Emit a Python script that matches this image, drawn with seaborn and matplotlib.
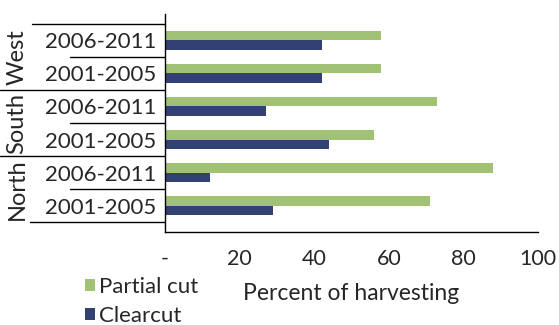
import numpy as np
import pandas as pd
import matplotlib.pyplot as plt
import matplotlib.transforms as mtransforms
import seaborn as sns

# data, top row first
regions = ["West", "West", "South", "South", "North", "North"]
periods = ["2006-2011", "2001-2005", "2006-2011", "2001-2005", "2006-2011", "2001-2005"]
partial_cut = [58, 58, 73, 56, 88, 71]
clearcut = [42, 42, 27, 44, 12, 29]
x_ticks = [0, 20, 40, 60, 80, 100]
x_tick_labels = ["-", "20", "40", "60", "80", "100"]

rows = [r + " " + p for r, p in zip(regions, periods)]
df = pd.DataFrame({
    "row": rows * 2,
    "value": partial_cut + clearcut,
    "type": ["Partial cut"] * len(rows) + ["Clearcut"] * len(rows),
})

sns.set_style("white")
plt.rcParams["font.family"] = ["Lato", "DejaVu Sans"]

fig = plt.figure(figsize=(5.59, 3.25), dpi=100)
ax = fig.add_axes([0.295, 0.286, 0.9625 - 0.295, 0.957 - 0.286])

sns.barplot(
    data=df, x="value", y="row", hue="type", order=rows,
    hue_order=["Partial cut", "Clearcut"],
    palette=["#a3cf67", "#283a7d"], width=0.56, linewidth=0,
    orient="h", ax=ax
)

ax.set_xlim(0, 100)
ax.set_xticks(x_ticks)
ax.set_xticklabels(x_tick_labels, fontsize=15.5)
ax.tick_params(axis="x", length=4, width=1, color="black", pad=8, direction="out")
ax.set_yticks(range(len(rows)))
ax.set_yticklabels(periods, fontsize=16)
ax.tick_params(axis="y", length=0, pad=6)
ax.set_ylabel("")
ax.set_xlabel("Percent of harvesting", fontsize=16.5, labelpad=10)

for side in ["top", "right"]:
    ax.spines[side].set_visible(False)
for side in ["left", "bottom"]:
    ax.spines[side].set_color("black")
    ax.spines[side].set_linewidth(1)

# label box lines
trans = mtransforms.blended_transform_factory(fig.transFigure, ax.transData)
x_axis = 0.295
for y, x0 in [(-0.5, 32 / 559), (1.5, 0.0), (3.5, 0.0), (5.5, 30 / 559),
              (0.5, 70 / 559), (2.5, 70 / 559), (4.5, 70 / 559)]:
    ax.plot([x0, x_axis], [y, y], color="black", lw=1, transform=trans, clip_on=False)

for name, y in [("West", 0.5), ("South", 2.5), ("North", 4.5)]:
    ax.text(17 / 559, y, name, transform=trans, rotation=90, fontsize=17,
            ha="center", va="center")

handles, labels = ax.get_legend_handles_labels()
ax.legend_.remove()
fig.legend(handles, labels, loc="upper left", bbox_to_anchor=(0.152, 1 - 277 / 325),
           frameon=False, fontsize=16, handlelength=0.45, handleheight=0.45,
           handletextpad=0.2, labelspacing=0.4, borderpad=0, borderaxespad=0)

fig.savefig("out.png", dpi=100)
